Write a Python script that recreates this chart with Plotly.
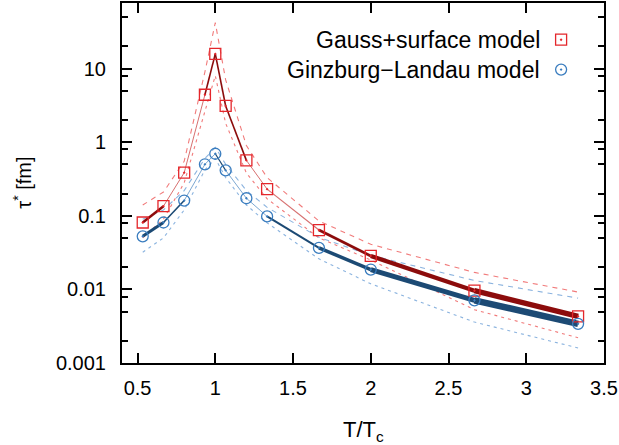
import plotly.graph_objects as go

# ---------------- data ----------------
t_over_tc = [0.5333, 0.6667, 0.8, 0.9333, 1.0, 1.0667, 1.2, 1.3333, 1.6667, 2.0, 2.6667, 3.3333]

gauss_mid = [0.081, 0.135, 0.385, 4.4, 15.8, 3.1, 0.566, 0.23, 0.064, 0.0285, 0.0096, 0.0043]
gauss_up = [0.14, 0.21, 0.55, 9.0, 42.0, 7.0, 0.9, 0.33, 0.085, 0.041, 0.017, 0.0092]
gauss_lo = [0.05, 0.09, 0.28, 2.5, 8.0, 1.8, 0.38, 0.17, 0.05, 0.025, 0.0053, 0.0022]

gl_mid = [0.0525, 0.081, 0.161, 0.50, 0.695, 0.414, 0.173, 0.098, 0.0366, 0.0186, 0.0071, 0.0034]
gl_up = [0.09, 0.12, 0.22, 0.6, 0.85, 0.5, 0.22, 0.13, 0.051, 0.029, 0.0132, 0.0076]
gl_lo = [0.032, 0.05, 0.12, 0.42, 0.6, 0.33, 0.14, 0.08, 0.026, 0.0119, 0.0036, 0.0016]

x_ticks = [0.5, 1, 1.5, 2, 2.5, 3, 3.5]
x_ticklabels = ["0.5", "1", "1.5", "2", "2.5", "3", "3.5"]
y_ticks = [0.001, 0.01, 0.1, 1, 10]
y_ticklabels = ["0.001", "0.01", "0.1", "1", "10"]
y_minor = [m * 10.0 ** e for e in range(-3, 2) for m in (2, 5, 8)]

legend_names = ["Gauss+surface model", "Ginzburg\u2212Landau model"]

# ---------------- style ----------------
RED_DARK, RED_LIGHT, RED_MK, RED_BAND = "#8c0c0c", "#d77070", "#e4262b", "rgba(238,90,90,0.8)"
BLU_DARK, BLU_LIGHT, BLU_MK, BLU_BAND = "#1c4a74", "#7da8d2", "#3a7dbf", "rgba(110,160,215,0.8)"

red_w = [2.5, 1.0, 1.0, 1.6, 1.6, 1.6, 1.0, 1.2, 2.8, 4.2, 5.5]
red_c = [RED_DARK, RED_LIGHT, RED_LIGHT, RED_DARK, RED_DARK, RED_DARK, RED_LIGHT, RED_LIGHT,
         RED_DARK, RED_DARK, RED_DARK]
blu_w = [3.0, 1.6, 1.0, 1.0, 1.2, 1.0, 1.0, 2.0, 3.5, 5.0, 6.5]
blu_c = [BLU_DARK, BLU_DARK, BLU_LIGHT, BLU_LIGHT, BLU_DARK, BLU_LIGHT, BLU_LIGHT, BLU_DARK,
         BLU_DARK, BLU_DARK, BLU_DARK]

FONT = "Liberation Sans, Arial, Helvetica, sans-serif"

fig = go.Figure()

# uncertainty bands
for ys, col, dash in [(gauss_up, RED_BAND, "5px,5px"), (gauss_lo, RED_BAND, "3px,4px"),
                      (gl_up, BLU_BAND, "5px,5px"), (gl_lo, BLU_BAND, "3px,4px")]:
    fig.add_trace(go.Scatter(x=t_over_tc, y=ys, mode="lines",
                             line=dict(color=col, width=1.1, dash=dash),
                             showlegend=False, hoverinfo="skip"))

# main lines with varying thickness
for ys, ws, cs in [(gauss_mid, red_w, red_c), (gl_mid, blu_w, blu_c)]:
    for i in range(len(t_over_tc) - 1):
        fig.add_trace(go.Scatter(x=t_over_tc[i:i + 2], y=ys[i:i + 2], mode="lines",
                                 line=dict(color=cs[i], width=ws[i]),
                                 showlegend=False, hoverinfo="skip"))

# markers
fig.add_trace(go.Scatter(x=t_over_tc, y=gauss_mid, mode="markers", name=legend_names[0],
                         marker=dict(symbol="square-open-dot", size=11, color=RED_MK,
                                     line=dict(width=1.3, color=RED_MK)),
                         showlegend=False))
fig.add_trace(go.Scatter(x=t_over_tc, y=gl_mid, mode="markers", name=legend_names[1],
                         marker=dict(symbol="circle-open-dot", size=11, color=BLU_MK,
                                     line=dict(width=1.3, color=BLU_MK)),
                         showlegend=False))

# legend (text left of symbol, gnuplot style) on an invisible overlay axis
leg_x = 0.911
leg_y = [0.898, 0.815]
fig.add_trace(go.Scatter(x=[leg_x], y=[leg_y[0]], xaxis="x2", yaxis="y2", mode="markers",
                         marker=dict(symbol="square-open-dot", size=11, color=RED_MK,
                                     line=dict(width=1.3, color=RED_MK)),
                         showlegend=False, hoverinfo="skip"))
fig.add_trace(go.Scatter(x=[leg_x], y=[leg_y[1]], xaxis="x2", yaxis="y2", mode="markers",
                         marker=dict(symbol="circle-open-dot", size=11, color=BLU_MK,
                                     line=dict(width=1.3, color=BLU_MK)),
                         showlegend=False, hoverinfo="skip"))

annotations = []
for name, yy in zip(legend_names, leg_y):
    annotations.append(dict(x=0.872, y=yy, xref="paper", yref="paper", text=name,
                            showarrow=False, xanchor="right", yanchor="middle",
                            font=dict(family=FONT, size=23, color="black")))
annotations.append(dict(x=-0.208, y=0.5, xref="paper", yref="paper",
                        text="\u03c4<sup>*</sup> [fm]", textangle=-90, showarrow=False,
                        xanchor="center", yanchor="middle",
                        font=dict(family=FONT, size=20, color="black")))
annotations.append(dict(x=0.5, y=-0.19, xref="paper", yref="paper",
                        text="T/T<sub>c</sub>", showarrow=False,
                        xanchor="center", yanchor="middle",
                        font=dict(family=FONT, size=22, color="black")))

fig.update_layout(
    width=619, height=445,
    margin=dict(l=122, r=13, t=1, b=82),
    paper_bgcolor="white", plot_bgcolor="white",
    showlegend=False,
    annotations=annotations,
    xaxis=dict(range=[0.4, 3.5], tickvals=x_ticks, ticktext=x_ticklabels,
               ticks="inside", ticklen=10, tickwidth=2, tickcolor="black",
               showline=True, linewidth=2, linecolor="black", mirror="allticks",
               showgrid=False, zeroline=False, ticklabelstandoff=6,
               ticklabeloverflow="allow",
               tickfont=dict(family=FONT, size=20, color="black")),
    yaxis=dict(type="log", range=[-3, 1.89], tickvals=y_ticks, ticktext=y_ticklabels,
               ticks="inside", ticklen=10, tickwidth=2, tickcolor="black",
               showline=True, linewidth=2, linecolor="black", mirror="allticks",
               showgrid=False, zeroline=False, ticklabelstandoff=10,
               ticklabeloverflow="allow",
               tickfont=dict(family=FONT, size=20, color="black"),
               minor=dict(tickvals=y_minor, ticks="inside", ticklen=6, tickwidth=2,
                          tickcolor="black", showgrid=False)),
    xaxis2=dict(overlaying="x", range=[0, 1], visible=False),
    yaxis2=dict(overlaying="y", range=[0, 1], visible=False, anchor="x2"),
)

fig.write_html("out.html")
